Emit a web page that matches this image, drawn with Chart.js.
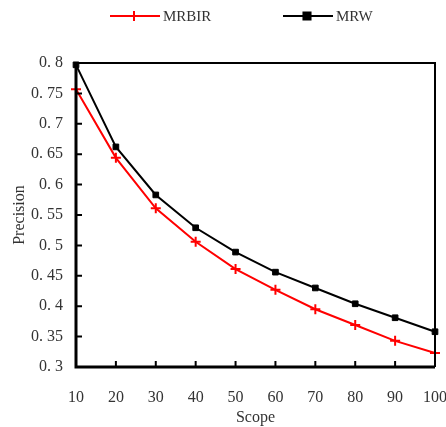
<!DOCTYPE html>
<html>
<head>
<meta charset="utf-8">
<script src="https://cdn.jsdelivr.net/npm/chart.js@4.4.0/dist/chart.umd.min.js"></script>
<style>
html,body{margin:0;padding:0;background:#fff}
#wrap{width:446px;height:427px}
</style>
</head>
<body>
<div id="wrap"><canvas id="chartCanvas" width="446" height="427"></canvas></div>
<script>
var scope=['10','20','30','40','50','60','70','80','90','100']
var mrbir=[0.757,0.644,0.561,0.506,0.461,0.427,0.395,0.369,0.343,0.323]
var mrw=[0.797,0.662,0.583,0.529,0.489,0.456,0.430,0.404,0.381,0.358]

var serif="'Liberation Serif','DejaVu Serif',serif"
var textColor='#333'

// legend drawn by hand: line with marker in the middle
var topLegend={
	id:'topLegend',
	afterDraw:function(chart){
		var ctx=chart.ctx
		var items=[
			{x:110,text:'MRBIR',color:'#ff0000',style:'cross'},
			{x:283,text:'MRW',color:'#000000',style:'rect'}
		]
		ctx.save()
		items.forEach(function(it){
			var y=16
			ctx.strokeStyle=it.color
			ctx.lineWidth=2
			ctx.beginPath()
			ctx.moveTo(it.x,y)
			ctx.lineTo(it.x+50,y)
			ctx.stroke()
			Chart.helpers.drawPoint(ctx,{pointStyle:it.style,radius:5,borderWidth:2},it.x+24,y)
			ctx.fillStyle=it.color
			if(it.style=='rect'){
				ctx.fillRect(it.x+20,y-4,8,8)
			}
			ctx.fillStyle=textColor
			ctx.font='15px '+serif
			ctx.textBaseline='middle'
			ctx.fillText(it.text,it.x+53,y+1)
		})
		ctx.restore()
	}
}

// inward ticks and the box round the plot
var boxTicks={
	id:'boxTicks',
	afterDatasetsDraw:function(chart){
		var ctx=chart.ctx
		var a=chart.chartArea
		var xs=chart.scales.x, ys=chart.scales.y
		ctx.save()
		ctx.strokeStyle='#000'
		ctx.lineWidth=2
		ctx.beginPath()
		ctx.moveTo(a.left,a.top)
		ctx.lineTo(a.right,a.top)
		ctx.lineTo(a.right,a.bottom)
		ctx.stroke()
		ctx.beginPath()
		for(var i=1;i<scope.length;i++){
			var px=xs.getPixelForValue(i)
			ctx.moveTo(px,a.bottom)
			ctx.lineTo(px,a.bottom-6)
		}
		ys.ticks.forEach(function(t){
			var py=ys.getPixelForValue(t.value)
			ctx.moveTo(a.left,py)
			ctx.lineTo(a.left+6,py)
		})
		ctx.stroke()
		ctx.lineWidth=3
		ctx.beginPath()
		ctx.moveTo(a.left,a.top)
		ctx.lineTo(a.left,a.bottom)
		ctx.lineTo(a.right,a.bottom)
		ctx.stroke()
		ctx.restore()
	}
}

var ctx=document.getElementById('chartCanvas').getContext('2d')
new Chart(ctx,{
	type:'line',
	data:{
		labels:scope,
		datasets:[
			{
				label:'MRBIR',
				data:mrbir,
				borderColor:'#ff0000',
				backgroundColor:'#ff0000',
				borderWidth:2,
				pointStyle:'cross',
				pointRadius:5,
				pointBorderWidth:2,
				tension:0
			},
			{
				label:'MRW',
				data:mrw,
				borderColor:'#000000',
				backgroundColor:'#000000',
				borderWidth:2,
				pointStyle:'rect',
				pointRadius:4,
				pointBorderWidth:1,
				tension:0
			}
		]
	},
	options:{
		responsive:false,
		animation:false,
		clip:false,
		layout:{padding:{top:63,right:11,left:8,bottom:0}},
		plugins:{legend:{display:false},tooltip:{enabled:false}},
		scales:{
			x:{
				type:'category',
				offset:false,
				grid:{display:false,drawTicks:false},
				border:{display:false},
				ticks:{color:textColor,font:{family:serif,size:16},padding:21,maxRotation:0,autoSkip:false},
				title:{display:true,text:'Scope',color:textColor,font:{family:serif,size:16},padding:{top:5,bottom:0}},
				afterFit:function(s){s.height=60;s.paddingRight=0;s.paddingLeft=0}
			},
			y:{
				min:0.3,
				max:0.8,
				grid:{display:false,drawTicks:false},
				border:{display:false},
				ticks:{
					stepSize:0.05,
					color:textColor,
					font:{family:serif,size:16},
					padding:13,
					callback:function(v){return (Math.round(v*100)/100).toString().replace('.','. ')}
				},
				title:{display:true,text:'Precision',color:textColor,font:{family:serif,size:16},padding:{top:2,bottom:4}},
				afterFit:function(s){s.width=68;s.paddingTop=0;s.paddingBottom=0}
			}
		}
	},
	plugins:[topLegend,boxTicks]
})
</script>
</body>
</html>
